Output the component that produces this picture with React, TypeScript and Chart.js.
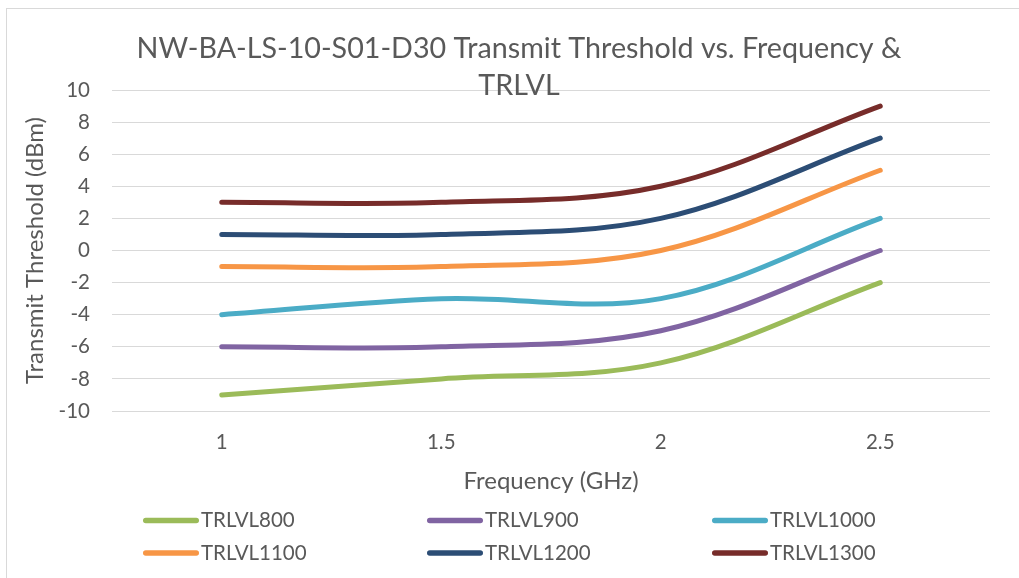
import React, { useEffect, useRef } from "react";
import { Chart, registerables } from "chart.js";

Chart.register(...registerables);

const categories = ["1", "1.5", "2", "2.5"];
const trlvl800 = [-9, -8, -7, -2];
const trlvl900 = [-6, -6, -5, 0];
const trlvl1000 = [-4, -3, -3, 2];
const trlvl1100 = [-1, -1, 0, 5];
const trlvl1200 = [1, 1, 2, 7];
const trlvl1300 = [3, 3, 4, 9];
const seriesNames = ["TRLVL800", "TRLVL900", "TRLVL1000", "TRLVL1100", "TRLVL1200", "TRLVL1300"];
const seriesColors = ["#9BBB59", "#8064A2", "#4BACC6", "#F79646", "#2C4D75", "#772C2A"];
const yTickValues = [-10, -8, -6, -4, -2, 0, 2, 4, 6, 8, 10];
const titleLines = ["NW-BA-LS-10-S01-D30 Transmit Threshold vs. Frequency &", "TRLVL"];

const FONT = "Lato, 'Open Sans', sans-serif";
const TEXT = "#595959";

const titlePlugin = {
  id: "wrappedTitle",
  afterDraw(chart: any) {
    const ctx = chart.ctx;
    ctx.save();
    ctx.fillStyle = TEXT;
    ctx.font = `28.7px ${FONT}`;
    ctx.textAlign = "center";
    ctx.textBaseline = "middle";
    titleLines.forEach((t, i) => ctx.fillText(t, 519, 48.5 + i * 37));
    ctx.restore();
  },
};

const legendPlugin = {
  id: "gridLegend",
  afterDraw(chart: any) {
    const ctx = chart.ctx;
    const cols = [143, 427, 712];
    const rows = [520.5, 553];
    ctx.save();
    chart.data.datasets.forEach((ds: any, i: number) => {
      const x = cols[i % 3];
      const y = rows[Math.floor(i / 3)];
      ctx.strokeStyle = ds.borderColor;
      ctx.lineWidth = 5.5;
      ctx.lineCap = "round";
      ctx.beginPath();
      ctx.moveTo(x + 2.75, y);
      ctx.lineTo(x + 53.25, y);
      ctx.stroke();
      ctx.fillStyle = TEXT;
      ctx.font = `20.5px ${FONT}`;
      ctx.textAlign = "left";
      ctx.textBaseline = "middle";
      ctx.fillText(ds.label, x + 58, y);
    });
    ctx.restore();
  },
};

export default function App() {
  const ref = useRef<HTMLCanvasElement | null>(null);
  useEffect(() => {
    if (!ref.current) return;
    const all = [trlvl800, trlvl900, trlvl1000, trlvl1100, trlvl1200, trlvl1300];
    const chart = new Chart(ref.current, {
      type: "line",
      data: {
        labels: categories,
        datasets: all.map((d, i) => ({
          label: seriesNames[i],
          data: d,
          borderColor: seriesColors[i],
          backgroundColor: seriesColors[i],
          borderWidth: 5,
          borderCapStyle: "round",
          borderJoinStyle: "round",
          pointRadius: 0,
          tension: 0.35,
          fill: false,
        })),
      },
      options: {
        responsive: false,
        animation: false,
        layout: { padding: { left: 8, right: 29, top: 90, bottom: 82 } },
        plugins: {
          legend: { display: false },
          tooltip: { enabled: false },
          title: { display: false },
        },
        scales: {
          x: {
            offset: true,
            grid: { display: false, drawTicks: false },
            border: { display: false },
            ticks: { color: TEXT, font: { family: FONT, size: 20.5 }, padding: 19 },
            title: {
              display: true,
              text: "Frequency (GHz)",
              color: TEXT,
              font: { family: FONT, size: 24 },
              padding: { top: 0, bottom: 0 },
            },
            afterFit(scale: any) {
              scale.height = 85;
            },
          },
          y: {
            min: -10,
            max: 10,
            afterBuildTicks(scale: any) {
              scale.ticks = yTickValues.map((v) => ({ value: v }));
            },
            grid: { color: "#D9D9D9", lineWidth: 1, drawTicks: false },
            border: { display: false },
            ticks: { color: TEXT, font: { family: FONT, size: 20.5 }, padding: 22 },
            title: {
              display: true,
              text: "Transmit Threshold (dBm)",
              color: TEXT,
              font: { family: FONT, size: 24 },
              padding: { top: 12.5, bottom: 0 },
            },
            afterFit(scale: any) {
              scale.width = 104;
            },
          },
        },
      },
      plugins: [titlePlugin, legendPlugin],
    } as any);
    return () => chart.destroy();
  }, []);
  return (
    <div style={{ position: "fixed", left: 0, top: 0, width: 1019, height: 578, background: "#fff", overflow: "hidden" }}>
      <div
        style={{
          position: "absolute",
          left: 6,
          top: 8,
          width: 1100,
          height: 700,
          border: "1px solid #D9D9D9",
          boxSizing: "border-box",
        }}
      />
      <canvas ref={ref} width={1019} height={578} style={{ position: "absolute", left: 0, top: 0 }} />
    </div>
  );
}
